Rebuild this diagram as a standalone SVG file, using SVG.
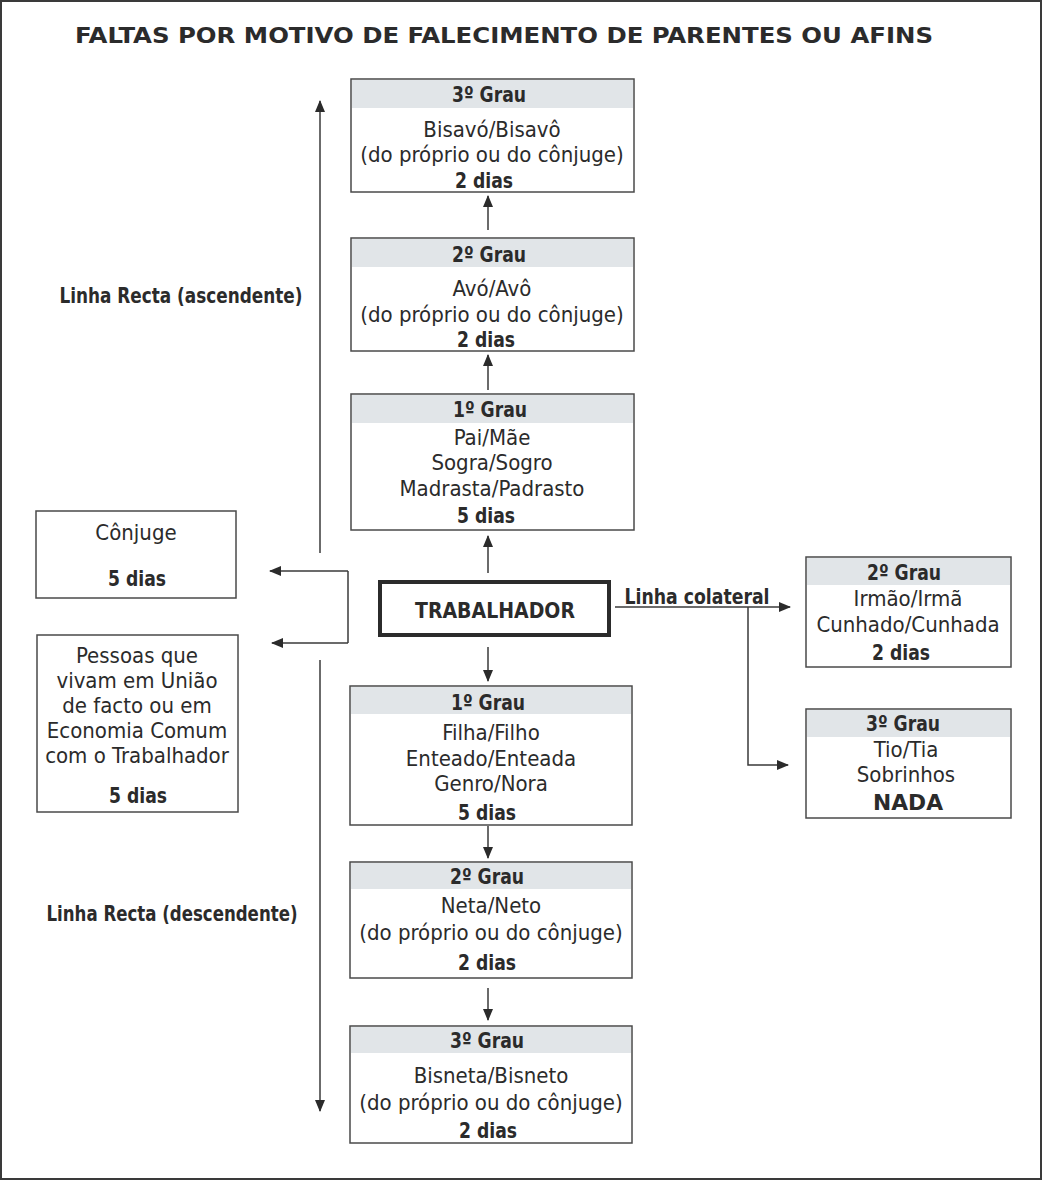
<svg xmlns="http://www.w3.org/2000/svg" width="1043" height="1181" viewBox="0 0 1043 1181">
<style>
text{font-family:"Liberation Sans Narrow","DejaVu Sans Condensed","Liberation Sans",sans-serif;fill:#2b2b2b;text-anchor:middle;font-size:22px}
.b{font-weight:bold}
.box{fill:#fff;stroke:#4a4a4a;stroke-width:1.5}
.hd{fill:#e1e5e8}
.ln{stroke:#3a3a3a;stroke-width:1.5;fill:none}
</style>
<defs>
<marker id="ah" viewBox="0 0 12 10" refX="11" refY="5" markerWidth="12" markerHeight="10" markerUnits="userSpaceOnUse" orient="auto">
<path d="M0,0 L12,5 L0,10 Z" fill="#2b2b2b"/>
</marker>
</defs>
<rect x="1" y="1" width="1040" height="1178" fill="#fff" stroke="#3a3a3a" stroke-width="2"/>
<text class="b" x="504" y="43" font-size="27" textLength="858" lengthAdjust="spacingAndGlyphs">FALTAS POR MOTIVO DE FALECIMENTO DE PARENTES OU AFINS</text>

<g id="connectors">
<line class="ln" x1="320" y1="553" x2="320" y2="101" marker-end="url(#ah)"/>
<line class="ln" x1="320" y1="660" x2="320" y2="1111" marker-end="url(#ah)"/>
<line class="ln" x1="488" y1="230" x2="488" y2="196" marker-end="url(#ah)"/>
<line class="ln" x1="488" y1="390" x2="488" y2="355" marker-end="url(#ah)"/>
<line class="ln" x1="488" y1="573" x2="488" y2="536" marker-end="url(#ah)"/>
<line class="ln" x1="488" y1="647" x2="488" y2="681" marker-end="url(#ah)"/>
<line class="ln" x1="488" y1="826" x2="488" y2="858" marker-end="url(#ah)"/>
<line class="ln" x1="488" y1="988" x2="488" y2="1020" marker-end="url(#ah)"/>
<polyline class="ln" points="348,571 348,643"/>
<line class="ln" x1="348" y1="571" x2="270" y2="571" marker-end="url(#ah)"/>
<line class="ln" x1="348" y1="643" x2="272" y2="643" marker-end="url(#ah)"/>
<line class="ln" x1="615" y1="607" x2="790" y2="607" marker-end="url(#ah)"/>
<polyline class="ln" points="748,607 748,765 788,765" marker-end="url(#ah)"/>
</g>

<g id="labels">
<text class="b" x="181" y="303" textLength="243" lengthAdjust="spacingAndGlyphs">Linha Recta (ascendente)</text>
<text class="b" x="172" y="921" textLength="251" lengthAdjust="spacingAndGlyphs">Linha Recta (descendente)</text>
<text class="b" x="697" y="604" textLength="145" lengthAdjust="spacingAndGlyphs">Linha colateral</text>
</g>

<g id="asc3">
<rect class="box" x="351" y="79" width="283" height="113"/>
<rect class="hd" x="352" y="80" width="281" height="28"/>
<text class="b" x="489" y="102" textLength="74" lengthAdjust="spacingAndGlyphs">3º Grau</text>
<text x="492" y="137">Bisavó/Bisavô</text>
<text x="492" y="162">(do próprio ou do cônjuge)</text>
<text class="b" x="484" y="188" textLength="58" lengthAdjust="spacingAndGlyphs">2 dias</text>
</g>
<g id="asc2">
<rect class="box" x="351" y="238" width="283" height="113"/>
<rect class="hd" x="352" y="239" width="281" height="28"/>
<text class="b" x="489" y="262" textLength="74" lengthAdjust="spacingAndGlyphs">2º Grau</text>
<text x="492" y="296">Avó/Avô</text>
<text x="492" y="322">(do próprio ou do cônjuge)</text>
<text class="b" x="486" y="347" textLength="58" lengthAdjust="spacingAndGlyphs">2 dias</text>
</g>
<g id="asc1">
<rect class="box" x="351" y="394" width="283" height="136"/>
<rect class="hd" x="352" y="395" width="281" height="28"/>
<text class="b" x="490" y="417" textLength="74" lengthAdjust="spacingAndGlyphs">1º Grau</text>
<text x="492" y="445">Pai/Mãe</text>
<text x="492" y="470">Sogra/Sogro</text>
<text x="492" y="496">Madrasta/Padrasto</text>
<text class="b" x="486" y="523" textLength="58" lengthAdjust="spacingAndGlyphs">5 dias</text>
</g>
<g id="trabalhador">
<rect x="380" y="582" width="229" height="53" fill="#fff" stroke="#2b2b2b" stroke-width="4"/>
<text class="b" x="495" y="618" textLength="160" lengthAdjust="spacingAndGlyphs">TRABALHADOR</text>
</g>
<g id="desc1">
<rect class="box" x="350" y="686" width="282" height="139"/>
<rect class="hd" x="351" y="687" width="280" height="27"/>
<text class="b" x="488" y="710" textLength="74" lengthAdjust="spacingAndGlyphs">1º Grau</text>
<text x="491" y="740">Filha/Filho</text>
<text x="491" y="766">Enteado/Enteada</text>
<text x="491" y="791">Genro/Nora</text>
<text class="b" x="487" y="820" textLength="58" lengthAdjust="spacingAndGlyphs">5 dias</text>
</g>
<g id="desc2">
<rect class="box" x="350" y="862" width="282" height="116"/>
<rect class="hd" x="351" y="863" width="280" height="26"/>
<text class="b" x="487" y="884" textLength="74" lengthAdjust="spacingAndGlyphs">2º Grau</text>
<text x="491" y="913">Neta/Neto</text>
<text x="491" y="940">(do próprio ou do cônjuge)</text>
<text class="b" x="487" y="970" textLength="58" lengthAdjust="spacingAndGlyphs">2 dias</text>
</g>
<g id="desc3">
<rect class="box" x="350" y="1026" width="282" height="117"/>
<rect class="hd" x="351" y="1027" width="280" height="26"/>
<text class="b" x="487" y="1048" textLength="74" lengthAdjust="spacingAndGlyphs">3º Grau</text>
<text x="491" y="1083">Bisneta/Bisneto</text>
<text x="491" y="1110">(do próprio ou do cônjuge)</text>
<text class="b" x="488" y="1138" textLength="58" lengthAdjust="spacingAndGlyphs">2 dias</text>
</g>
<g id="conjuge">
<rect class="box" x="36" y="511" width="200" height="87"/>
<text x="136" y="540">Cônjuge</text>
<text class="b" x="137" y="586" textLength="58" lengthAdjust="spacingAndGlyphs">5 dias</text>
</g>
<g id="uniao">
<rect class="box" x="37" y="635" width="201" height="177"/>
<text x="137" y="663">Pessoas que</text>
<text x="137" y="688">vivam em União</text>
<text x="137" y="713">de facto ou em</text>
<text x="137" y="738">Economia Comum</text>
<text x="137" y="763">com o Trabalhador</text>
<text class="b" x="138" y="803" textLength="58" lengthAdjust="spacingAndGlyphs">5 dias</text>
</g>
<g id="col2">
<rect class="box" x="806" y="557" width="205" height="110"/>
<rect class="hd" x="807" y="558" width="203" height="27"/>
<text class="b" x="904" y="580" textLength="74" lengthAdjust="spacingAndGlyphs">2º Grau</text>
<text x="908" y="606">Irmão/Irmã</text>
<text x="908" y="632">Cunhado/Cunhada</text>
<text class="b" x="901" y="660" textLength="58" lengthAdjust="spacingAndGlyphs">2 dias</text>
</g>
<g id="col3">
<rect class="box" x="806" y="709" width="205" height="109"/>
<rect class="hd" x="807" y="710" width="203" height="27"/>
<text class="b" x="903" y="731" textLength="74" lengthAdjust="spacingAndGlyphs">3º Grau</text>
<text x="906" y="757">Tio/Tia</text>
<text x="906" y="782">Sobrinhos</text>
<text class="b" x="908" y="810" textLength="70" lengthAdjust="spacingAndGlyphs">NADA</text>
</g>
</svg>
